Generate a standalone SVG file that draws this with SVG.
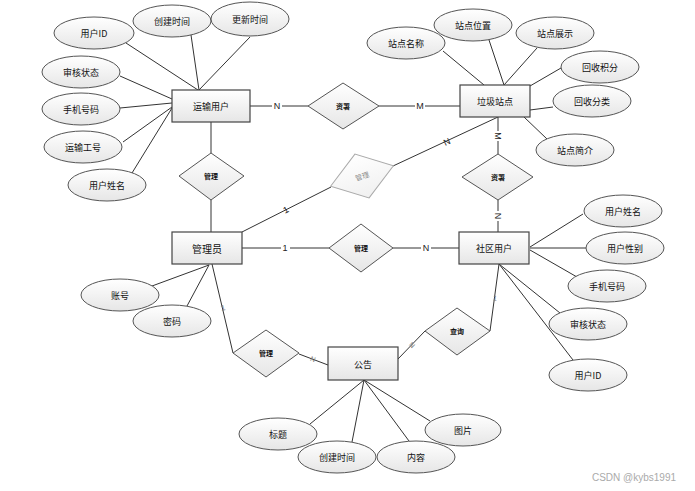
<svg xmlns="http://www.w3.org/2000/svg" width="695" height="491" viewBox="0 0 695 491">
<defs>
<linearGradient id="g" x1="0" y1="0" x2="0" y2="1"><stop offset="0" stop-color="#ffffff"/><stop offset="1" stop-color="#e6e6e6"/></linearGradient>
<linearGradient id="gl" x1="0" y1="0" x2="0" y2="1"><stop offset="0" stop-color="#ffffff"/><stop offset="1" stop-color="#f0f0f0"/></linearGradient>
</defs>
<style>
.e{fill:url(#g);stroke:#555;stroke-width:1}
.r{fill:url(#g);stroke:#444;stroke-width:1.2}
.d{fill:url(#g);stroke:#555;stroke-width:1}
.t{font-family:"Noto Sans CJK SC","Liberation Sans",sans-serif;font-size:9px;fill:#111;text-anchor:middle;dominant-baseline:central}
.dt{font-family:"Noto Sans CJK SC","Liberation Sans",sans-serif;font-size:7px;font-weight:bold;fill:#111;text-anchor:middle;dominant-baseline:central}
.l{font-family:"Liberation Sans",sans-serif;font-size:9px;fill:#222;text-anchor:middle;dominant-baseline:central}
.c line{stroke:#333;stroke-width:1}
</style>
<rect width="695" height="491" fill="#fff"/>
<g class="c" id="connectors">
<line x1="126" y1="43" x2="198" y2="90"/>
<line x1="191" y1="35" x2="199" y2="90"/>
<line x1="250" y1="37" x2="199" y2="90"/>
<line x1="120" y1="76" x2="172" y2="99"/>
<line x1="120" y1="108" x2="172" y2="103"/>
<line x1="123" y1="142" x2="172" y2="107"/>
<line x1="132" y1="173" x2="172" y2="108"/>
<line x1="250" y1="106" x2="308" y2="106"/>
<line x1="379" y1="106" x2="460" y2="106"/>
<line x1="443" y1="51" x2="484" y2="85"/>
<line x1="489" y1="40" x2="504" y2="85"/>
<line x1="537" y1="48" x2="504" y2="85"/>
<line x1="561" y1="68" x2="530" y2="86"/>
<line x1="553" y1="107" x2="530" y2="110"/>
<line x1="547" y1="139" x2="524" y2="117"/>
<line x1="498" y1="117" x2="498" y2="154"/>
<line x1="498" y1="200" x2="498" y2="232"/>
<line x1="393" y1="166" x2="498" y2="117"/>
<line x1="242" y1="232" x2="331" y2="187"/>
<line x1="211" y1="122" x2="211" y2="153"/>
<line x1="211" y1="200" x2="211" y2="232"/>
<line x1="242" y1="248" x2="329" y2="248"/>
<line x1="393" y1="248" x2="459" y2="248"/>
<line x1="152" y1="286" x2="209" y2="265"/>
<line x1="187" y1="306" x2="209" y2="265"/>
<line x1="583" y1="214" x2="530" y2="247"/>
<line x1="586" y1="248" x2="530" y2="248"/>
<line x1="577" y1="277" x2="530" y2="250"/>
<line x1="560" y1="313" x2="499" y2="264"/>
<line x1="573" y1="360" x2="499" y2="264"/>
<line x1="490" y1="331" x2="499" y2="264"/>
<line x1="425" y1="331" x2="398" y2="359"/>
<line x1="212" y1="264" x2="233" y2="353"/>
<line x1="299" y1="354" x2="328" y2="365"/>
<line x1="364" y1="380" x2="310" y2="424"/>
<line x1="364" y1="380" x2="352" y2="442"/>
<line x1="364" y1="380" x2="409" y2="441"/>
<line x1="364" y1="380" x2="430" y2="421"/>
<g fill="#fff">
<rect x="272" y="101" width="10" height="10" fill="#fff"/>
<rect x="415" y="101" width="10" height="10" fill="#fff"/>
<rect x="281" y="243" width="9" height="10" fill="#fff"/>
<rect x="421" y="243" width="10" height="10" fill="#fff"/>
<rect x="493" y="131" width="10" height="10" fill="#fff"/>
<rect x="493" y="211" width="10" height="10" fill="#fff"/>
</g>
</g>
<g id="labels">
<text class="l" x="277" y="106">N</text>
<text class="l" x="420" y="106">M</text>
<text class="l" x="498" y="136" transform="rotate(90 498 136)">M</text>
<text class="l" x="498" y="216" transform="rotate(90 498 216)">N</text>
<text class="l" x="447" y="142" transform="rotate(-25 447 142)">N</text>
<text class="l" x="286" y="210" transform="rotate(-27 286 210)">1</text>
<text class="l" x="285" y="248">1</text>
<text class="l" x="426" y="248">N</text>
<text class="l" x="223" y="308" transform="rotate(-13 223 308)" style="font-size:8px;fill:#777">1</text>
<text class="l" x="313" y="359" transform="rotate(20 313 359)" style="font-size:7px;fill:#777">N</text>
<text class="l" x="495" y="298" transform="rotate(8 495 298)" style="font-size:7px;fill:#777">1</text>
<text class="l" x="412" y="345" transform="rotate(45 412 345)" style="font-size:7px;fill:#777">N</text>
</g>
<g id="yunshu"><rect class="r" x="172" y="90" width="78" height="32"/><text class="t" x="211" y="106">运输用户</text></g>
<g id="yh-id"><ellipse class="e" cx="94" cy="33" rx="40" ry="16"/><text class="t" x="94" y="33">用户ID</text></g>
<g id="yh-cjsj"><ellipse class="e" cx="172" cy="21" rx="39" ry="16"/><text class="t" x="172" y="21">创建时间</text></g>
<g id="yh-gxsj"><ellipse class="e" cx="250" cy="19" rx="39" ry="17"/><text class="t" x="250" y="19">更新时间</text></g>
<g id="yh-shzt"><ellipse class="e" cx="81" cy="72" rx="39" ry="16"/><text class="t" x="81" y="72">审核状态</text></g>
<g id="yh-sjhm"><ellipse class="e" cx="81" cy="109" rx="39" ry="16"/><text class="t" x="81" y="109">手机号码</text></g>
<g id="yh-ysgh"><ellipse class="e" cx="83" cy="147" rx="39" ry="16"/><text class="t" x="83" y="147">运输工号</text></g>
<g id="yh-yhxm"><ellipse class="e" cx="107" cy="185" rx="39" ry="16"/><text class="t" x="107" y="185">用户姓名</text></g>
<g id="rel1"><polygon class="d" points="308,106 343,83 379,106 343,129"/><text class="dt" x="343" y="106">资署</text></g>
<g id="zhandian"><rect class="r" x="460" y="85" width="70" height="32"/><text class="t" x="495" y="101">垃圾站点</text></g>
<g id="zd-mc"><ellipse class="e" cx="406" cy="43" rx="39" ry="16"/><text class="t" x="406" y="43">站点名称</text></g>
<g id="zd-wz"><ellipse class="e" cx="473" cy="25" rx="39" ry="16"/><text class="t" x="473" y="25">站点位置</text></g>
<g id="zd-zs"><ellipse class="e" cx="555" cy="33" rx="39" ry="16"/><text class="t" x="555" y="33">站点展示</text></g>
<g id="zd-jf"><ellipse class="e" cx="600" cy="67" rx="39" ry="16"/><text class="t" x="600" y="67">回收积分</text></g>
<g id="zd-fl"><ellipse class="e" cx="592" cy="101" rx="39" ry="16"/><text class="t" x="592" y="101">回收分类</text></g>
<g id="zd-jj"><ellipse class="e" cx="575" cy="150" rx="39" ry="16"/><text class="t" x="575" y="150">站点简介</text></g>
<g id="rel2"><polygon class="d" points="462,177 498,154 533,177 498,200"/><text class="dt" x="498" y="177">资署</text></g>
<g id="rel-gray" transform="rotate(-18 362 176)"><polygon points="329,176 362,153 395,176 362,199" fill="url(#gl)" stroke="#aaa" stroke-width="1"/><text class="dt" x="362" y="176" style="fill:#888;font-weight:normal">管理</text></g>
<g id="rel3"><polygon class="d" points="179,176 211,153 244,176 211,200"/><text class="dt" x="211" y="176">管理</text></g>
<g id="admin"><rect class="r" x="172" y="232" width="70" height="32"/><text class="t" x="207" y="248" style="font-size:10px">管理员</text></g>
<g id="ad-zh"><ellipse class="e" cx="120" cy="295" rx="39" ry="16"/><text class="t" x="120" y="295">账号</text></g>
<g id="ad-mm"><ellipse class="e" cx="172" cy="321" rx="39" ry="16"/><text class="t" x="172" y="321">密码</text></g>
<g id="rel4"><polygon class="d" points="329,248 361,224 393,248 361,272"/><text class="dt" x="361" y="248">管理</text></g>
<g id="shequ"><rect class="r" x="459" y="232" width="70" height="32"/><text class="t" x="494" y="248">社区用户</text></g>
<g id="sq-xm"><ellipse class="e" cx="623" cy="211" rx="39" ry="16"/><text class="t" x="623" y="211">用户姓名</text></g>
<g id="sq-xb"><ellipse class="e" cx="625" cy="248" rx="39" ry="16"/><text class="t" x="625" y="248">用户性别</text></g>
<g id="sq-sj"><ellipse class="e" cx="607" cy="286" rx="39" ry="16"/><text class="t" x="607" y="286">手机号码</text></g>
<g id="sq-sh"><ellipse class="e" cx="588" cy="324" rx="39" ry="16"/><text class="t" x="588" y="324">审核状态</text></g>
<g id="sq-id"><ellipse class="e" cx="588" cy="375" rx="39" ry="16"/><text class="t" x="588" y="375">用户ID</text></g>
<g id="rel5"><polygon class="d" points="425,331 457,308 490,331 457,355"/><text class="dt" x="457" y="331">查询</text></g>
<g id="rel6"><polygon class="d" points="233,353 266,330 299,353 266,377"/><text class="dt" x="266" y="353">管理</text></g>
<g id="gonggao"><rect class="r" x="328" y="347" width="70" height="33"/><text class="t" x="363" y="364">公告</text></g>
<g id="gg-bt"><ellipse class="e" cx="278" cy="434" rx="39" ry="16"/><text class="t" x="278" y="434">标题</text></g>
<g id="gg-cj"><ellipse class="e" cx="337" cy="457" rx="39" ry="16"/><text class="t" x="337" y="457">创建时间</text></g>
<g id="gg-nr"><ellipse class="e" cx="416" cy="457" rx="39" ry="16"/><text class="t" x="416" y="457">内容</text></g>
<g id="gg-tp"><ellipse class="e" cx="463" cy="430" rx="38" ry="16"/><text class="t" x="463" y="430">图片</text></g>
<text x="634" y="477" style="font-family:'Liberation Sans',sans-serif;font-size:10px;fill:#aaa;text-anchor:middle;dominant-baseline:central">CSDN @kybs1991</text>
</svg>
